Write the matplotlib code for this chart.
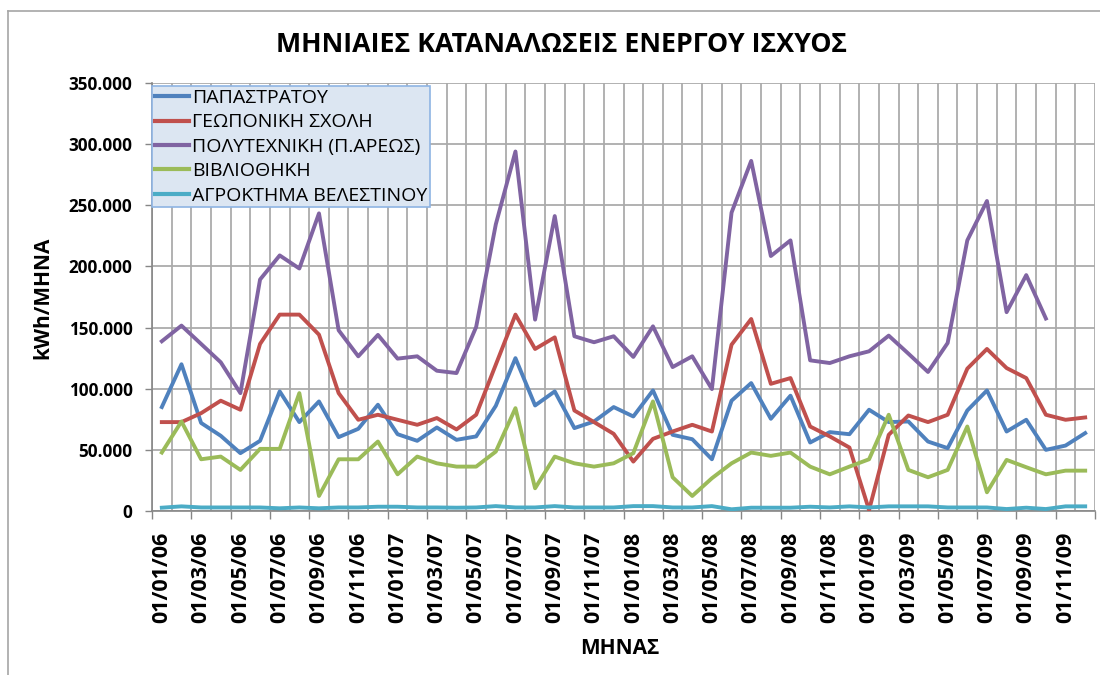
import matplotlib
matplotlib.use('Agg')
import matplotlib.pyplot as plt
import numpy as np
from matplotlib.lines import Line2D

plt.rcParams['font.family'] = ['Open Sans', 'DejaVu Sans']

# month labels 01/01/06 ... 01/12/09
months = ['01/%02d/%02d' % (m, y) for y in range(6, 10) for m in range(1, 13)]

papastratou = [85000, 120000, 72000, 61500, 47300, 57400, 97800, 72700, 89600, 60400, 67200, 86900,
               62800, 57400, 68300, 58200, 61000, 86000, 125000, 86300, 97800, 67800, 73200, 85000,
               77300, 98600, 62300, 58700, 42300, 90200, 104600, 75400, 94300, 56000, 64500, 62800,
               82800, 72700, 73200, 56800, 51400, 82200, 98600, 65000, 74600, 50000, 53500, 63700]
geoponiki = [72700, 72700, 80000, 90200, 82800, 136600, 160600, 160600, 144200, 96400, 74600, 78700,
             74600, 70500, 76000, 66700, 78700, 119700, 160600, 132500, 142000, 82200, 72700, 63100,
             40400, 59000, 65000, 70500, 65000, 136000, 157000, 104000, 108700, 69100, 61000, 51900,
             800, 62300, 78100, 72700, 78700, 116400, 132500, 116900, 108700, 78700, 74600, 76500]
polytexniki = [138800, 151600, 136600, 121600, 96400, 189300, 209000, 198300, 243400, 147800, 126500, 144000,
               124600, 126500, 114700, 112800, 150500, 234400, 294000, 156500, 241200, 142900, 138000, 142900,
               126000, 151000, 117700, 126500, 99700, 244000, 286300, 208500, 221300, 123200, 121000, 126500,
               130600, 143400, 128700, 113700, 137400, 221300, 253500, 162600, 192900, 157400, np.nan, np.nan]
vivliothiki = [47800, 73200, 42300, 44500, 33600, 50800, 50800, 96400, 12300, 42300, 42300, 56800,
               30000, 44500, 39000, 36300, 36300, 48600, 84100, 18600, 44500, 39000, 36300, 39000,
               47300, 89600, 27600, 12300, 26800, 39000, 47800, 45100, 47800, 36300, 30000, 36300,
               42300, 78700, 33600, 27600, 33600, 69100, 15300, 41800, 35800, 30000, 33000, 33000]
velestino = [2700, 3800, 2900, 2900, 2900, 2900, 2200, 2900, 2200, 2900, 2900, 3500,
             3500, 2900, 2900, 2700, 2900, 4000, 2900, 2900, 4000, 2900, 2900, 2900,
             4000, 4000, 2900, 2900, 4000, 1400, 2700, 2700, 2700, 3500, 2900, 3800,
             2900, 3800, 3800, 3800, 2900, 2900, 2900, 1600, 2700, 1600, 3800, 3800]

series = [
    ('ΠΑΠΑΣΤΡΑΤΟΥ', papastratou, '#4F81BD'),
    ('ΓΕΩΠΟΝΙΚΗ ΣΧΟΛΗ', geoponiki, '#C0504D'),
    ('ΠΟΛΥΤΕΧΝΙΚΗ (Π.ΑΡΕΩΣ)', polytexniki, '#8064A2'),
    ('ΒΙΒΛΙΟΘΗΚΗ', vivliothiki, '#9BBB59'),
    ('ΑΓΡΟΚΤΗΜΑ ΒΕΛΕΣΤΙΝΟΥ', velestino, '#4BACC6'),
]

fig = plt.figure(figsize=(11, 6.75), dpi=100)
ax = fig.add_axes([152/1100, 1-511/675, (1095-152)/1100, (511-83)/675])

x = np.arange(len(months))
grid_c = '#ABABAB'
# vertical gridlines at category boundaries
for b in np.arange(len(months) + 1) - 0.5:
    ax.axvline(b, color=grid_c, lw=1.3, zorder=1)
for name, vals, col in series:
    ax.plot(x, vals, color=col, lw=2.8, label=name, zorder=3, solid_joinstyle='round')

ax.set_xlim(-0.5, len(months) - 0.5)
ax.set_ylim(0, 350000)
yt = np.arange(0, 350001, 50000)
ax.set_yticks(yt)
ax.set_yticklabels([('{:,.0f}'.format(v)).replace(',', '.') for v in yt],
                   fontsize=12.3, fontweight='bold')
ax.yaxis.grid(True, color=grid_c, lw=1.3, zorder=1)
ax.tick_params(axis='y', length=5, width=1, color='#868686', pad=9)

ax.set_xticks(x[::2])
ax.set_xticklabels(months[::2], rotation=90, fontsize=15.5, fontweight='bold')
ax.set_xticks(np.arange(len(months) + 1)[::2] - 0.5, minor=True)
ax.tick_params(axis='x', which='major', length=0, pad=15)
ax.tick_params(axis='x', which='minor', length=6, width=1, color='#868686')

for s in ['top', 'right']:
    ax.spines[s].set_visible(False)
for s in ['left', 'bottom']:
    ax.spines[s].set_color('#868686')
    ax.spines[s].set_linewidth(1.2)

ax.set_axisbelow(True)

leg = ax.legend(loc='upper left', bbox_to_anchor=(0.0, 0.993), fontsize=14,
                frameon=True, fancybox=False, handlelength=1.75, handletextpad=0.15,
                borderaxespad=0, borderpad=0.15, labelspacing=0.33)
leg.get_frame().set_facecolor('#DCE6F2')
leg.get_frame().set_edgecolor('#8EB4E3')
leg.get_frame().set_linewidth(1.2)
leg.get_frame().set_alpha(1)
for h in leg.get_lines():
    h.set_linewidth(3)

fig.text(561/1100, 1-45/675, 'ΜΗΝΙΑΙΕΣ ΚΑΤΑΝΑΛΩΣΕΙΣ ΕΝΕΡΓΟΥ ΙΣΧΥΟΣ',
         ha='center', va='center', fontsize=19.3, fontweight='bold')
fig.text(43/1100, 1-298/675, 'kWh/ΜΗΝΑ', rotation=90, ha='center', va='center',
         fontsize=15, fontweight='bold')
fig.text(620/1100, 1-648/675, 'ΜΗΝΑΣ', ha='center', va='center',
         fontsize=15, fontweight='bold')

# chart area border (only top and left visible in the crop)
fig.add_artist(Line2D([8/1100, 8/1100], [0, 1-11/675], color='#A6A6A6', lw=1.2))
fig.add_artist(Line2D([8/1100, 1], [1-11/675, 1-11/675], color='#A6A6A6', lw=1.2))

fig.savefig('out.png', dpi=100)
